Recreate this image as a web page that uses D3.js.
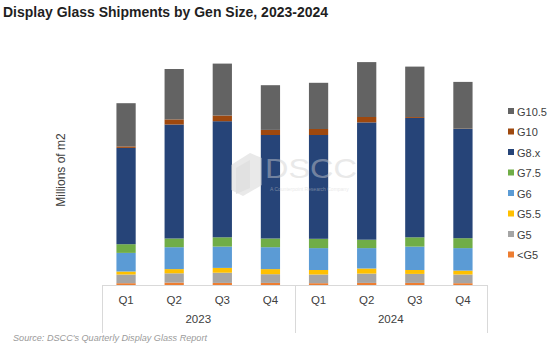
<!DOCTYPE html>
<html lang="en">
<head>
<meta charset="utf-8">
<style>
  body { margin: 0; background: #fff; }
  svg text { font-family: "Liberation Sans", Arial, sans-serif; }
</style>
</head>
<body>
<svg width="554" height="347"></svg>
<script src="https://d3js.org/d3.v7.min.js"></script>
<script>
// quarterly shipments, millions of m2
var quarters = ["Q1", "Q2", "Q3", "Q4", "Q1", "Q2", "Q3", "Q4"];
var years = ["2023", "2024"];
var gens = ["<G5", "G5", "G5.5", "G6", "G7.5", "G8.x", "G10", "G10.5"];
var genColors = ["#ed7d31", "#a5a5a5", "#ffc000", "#5b9bd5", "#70ad47", "#264478", "#9e480e", "#636363"];

var ltG5  = [0.6, 0.8, 0.7, 0.7, 0.6, 0.7, 0.7, 0.6];
var g5    = [2.9, 3.1, 3.4, 2.9, 2.9, 3.1, 3.0, 2.9];
var g55   = [1.0, 1.4, 1.6, 1.7, 1.5, 1.7, 1.3, 1.3];
var g6    = [6.2, 7.3, 7.1, 7.3, 7.3, 6.8, 7.8, 7.5];
var g75   = [2.9, 2.9, 3.1, 2.9, 3.1, 2.8, 3.1, 3.3];
var g8x   = [32.1, 38.0, 38.7, 34.5, 34.6, 39.1, 39.8, 36.4];
var g10   = [0.5, 1.7, 1.9, 1.7, 2.0, 1.8, 0.3, 0.1];
var g105  = [14.4, 16.8, 17.3, 14.9, 15.4, 18.3, 16.8, 15.6];

var seriesValues = [ltG5, g5, g55, g6, g75, g8x, g10, g105];

var svg = d3.select("svg");

var rows = quarters.map(function (q, i) {
    var r = { key: years[Math.floor(i / 4)] + q };
    gens.forEach(function (g, j) { r[g] = seriesValues[j][i]; });
    return r;
});

var x = d3.scaleBand()
    .domain(rows.map(function (d) { return d.key; }))
    .range([102, 487])
    .paddingInner(0.6)
    .paddingOuter(0.3);

var y = d3.scaleLinear().domain([0, 80]).range([285, 45]);

var stacked = d3.stack().keys(gens)(rows);

svg.append("g")
    .selectAll("g")
    .data(stacked)
    .join("g")
    .attr("fill", function (d, i) { return genColors[i]; })
    .selectAll("rect")
    .data(function (d) { return d; })
    .join("rect")
    .attr("x", function (d) { return x(d.data.key); })
    .attr("width", x.bandwidth())
    .attr("y", function (d) { return y(d[1]); })
    .attr("height", function (d) { return y(d[0]) - y(d[1]); });

// watermark
var wm = svg.append("g").attr("opacity", 0.45).attr("fill", "#cfcfcf");
wm.append("path").attr("d", "M231,165 L250,153 L262,158 L262,185 L243,196 L231,190 Z");
wm.append("path").attr("d", "M236,168 L250,160 L250,188 L236,194 Z").attr("fill", "#bdbdbd");
wm.append("text").attr("x", 265).attr("y", 178)
    .attr("font-size", 28).attr("font-family", "Liberation Sans")
    .attr("textLength", 92).attr("lengthAdjust", "spacingAndGlyphs")
    .text("DSCC");
wm.append("text").attr("x", 270).attr("y", 191)
    .attr("font-size", 5).text("A Counterpoint Research Company");

// category axis with two levels
var axis = svg.append("g").attr("stroke", "#d9d9d9").attr("stroke-width", 1);
axis.append("line").attr("x1", 102).attr("x2", 487).attr("y1", 285.5).attr("y2", 285.5);
[102, x(rows[4].key) - x.step() * x.paddingInner() / 2 + 0.5, 487].forEach(function (px) {
    axis.append("line").attr("x1", Math.round(px) + 0.5).attr("x2", Math.round(px) + 0.5)
        .attr("y1", 285).attr("y2", 333);
});

svg.append("g").selectAll("text")
    .data(rows)
    .join("text")
    .attr("x", function (d) { return x(d.key) + x.bandwidth() / 2; })
    .attr("y", 304)
    .attr("text-anchor", "middle")
    .attr("font-size", 11.5)
    .attr("fill", "#404040")
    .text(function (d, i) { return quarters[i]; });

svg.append("g").selectAll("text")
    .data(years)
    .join("text")
    .attr("x", function (d, i) {
        var a = x(rows[i * 4].key), b = x(rows[i * 4 + 3].key) + x.bandwidth();
        return (a + b) / 2;
    })
    .attr("y", 323)
    .attr("text-anchor", "middle")
    .attr("font-size", 11.5)
    .attr("fill", "#404040")
    .text(function (d) { return d; });

// y axis title
svg.append("text")
    .attr("transform", "translate(65,170) rotate(-90)")
    .attr("text-anchor", "middle")
    .attr("font-size", 12)
    .attr("fill", "#404040")
    .text("Millions of m2");

// legend, top item first
var legend = svg.append("g").selectAll("g")
    .data(gens.slice().reverse())
    .join("g")
    .attr("transform", function (d, i) { return "translate(508," + (111.5 + i * 20.5) + ")"; });

legend.append("rect")
    .attr("x", 0).attr("y", -3.5)
    .attr("width", 6).attr("height", 6)
    .attr("fill", function (d) { return genColors[gens.indexOf(d)]; });

legend.append("text")
    .attr("x", 9).attr("y", 4)
    .attr("font-size", 11)
    .attr("fill", "#404040")
    .text(function (d) { return d; });

// title and source
svg.append("text")
    .attr("x", 3).attr("y", 17)
    .attr("font-family", "Inter, sans-serif")
    .attr("font-weight", 700)
    .attr("font-size", 15)
    .attr("fill", "#1f1f1f")
    .attr("textLength", 325).attr("lengthAdjust", "spacingAndGlyphs")
    .text("Display Glass Shipments by Gen Size, 2023-2024");

svg.append("text")
    .attr("x", 13).attr("y", 341)
    .attr("font-family", "Inter, sans-serif")
    .attr("font-style", "italic")
    .attr("font-size", 9)
    .attr("fill", "#9a9a9a")
    .attr("textLength", 194).attr("lengthAdjust", "spacingAndGlyphs")
    .text("Source: DSCC's Quarterly Display Glass Report");
</script>
</body>
</html>
